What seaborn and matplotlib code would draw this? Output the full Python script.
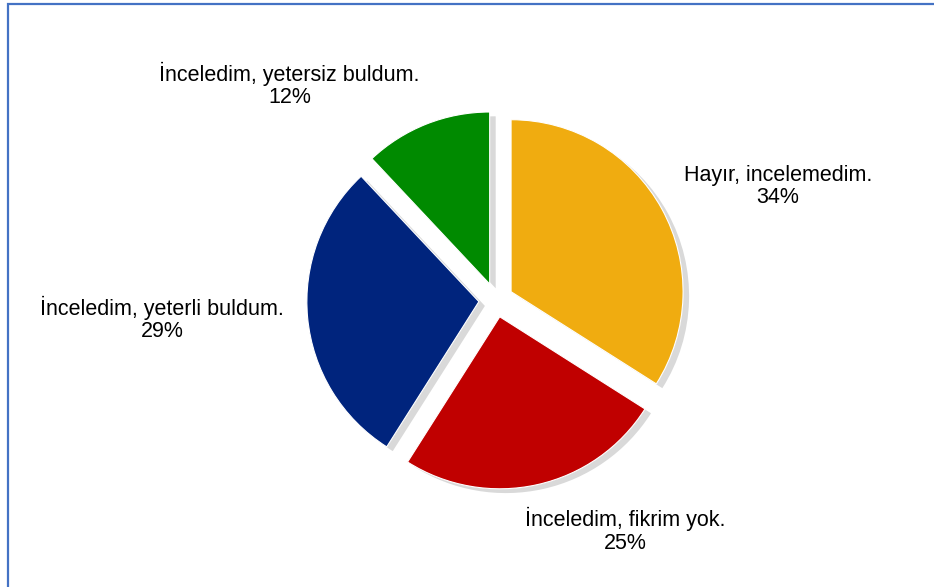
import seaborn as sns
from matplotlib import pyplot as plt
from matplotlib.patches import Rectangle

# data
labels = ['Hayır, incelemedim.', 'İnceledim, fikrim yok.',
          'İnceledim, yeterli buldum.', 'İnceledim, yetersiz buldum.']
values = [34, 25, 29, 12]
colors = ['#F0AC10', '#C00000', '#00247D', '#008A00']

# layout: label centres relative to pie centre (in pie radii)
label_pos = [(1.64, 0.66), (0.75, -1.34), (-1.94, -0.11), (-1.20, 1.25)]

sns.set_theme(style='white')
plt.rcParams['font.family'] = ['Liberation Sans', 'DejaVu Sans']

fig = plt.figure(figsize=(9.34, 5.87), dpi=100)
ax = fig.add_axes([0, 0, 1, 1])
ax.axis('off')

explode = [0.1] * len(values)

# shadow
ax.pie(values, startangle=90, counterclock=False, explode=explode,
       colors=['#d9d9d9'] * len(values), center=(0.035, -0.025),
       wedgeprops={'linewidth': 0})
ax.pie(values, startangle=90, counterclock=False, explode=explode,
       colors=colors, wedgeprops={'linewidth': 0.8, 'edgecolor': 'white'})
ax.set_xlim(-496 / 172, 438 / 172)
ax.set_ylim(-287 / 172, 300 / 172)
ax.set_aspect('auto')

total = sum(values)
for lab, v, (x, y) in zip(labels, values, label_pos):
    ax.text(x, y, f"{lab}\n{round(100 * v / total)}%", ha='center', va='center',
            fontsize=15.5, linespacing=1.07, color='black')

# frame (left and top edges visible)
fig.patches.append(Rectangle((8 / 934, -0.1), 1.1, 1.1 - 4 / 587, transform=fig.transFigure,
                             fill=False, edgecolor='#4472C4', linewidth=1.6))

plt.savefig('out.png', dpi=100)
